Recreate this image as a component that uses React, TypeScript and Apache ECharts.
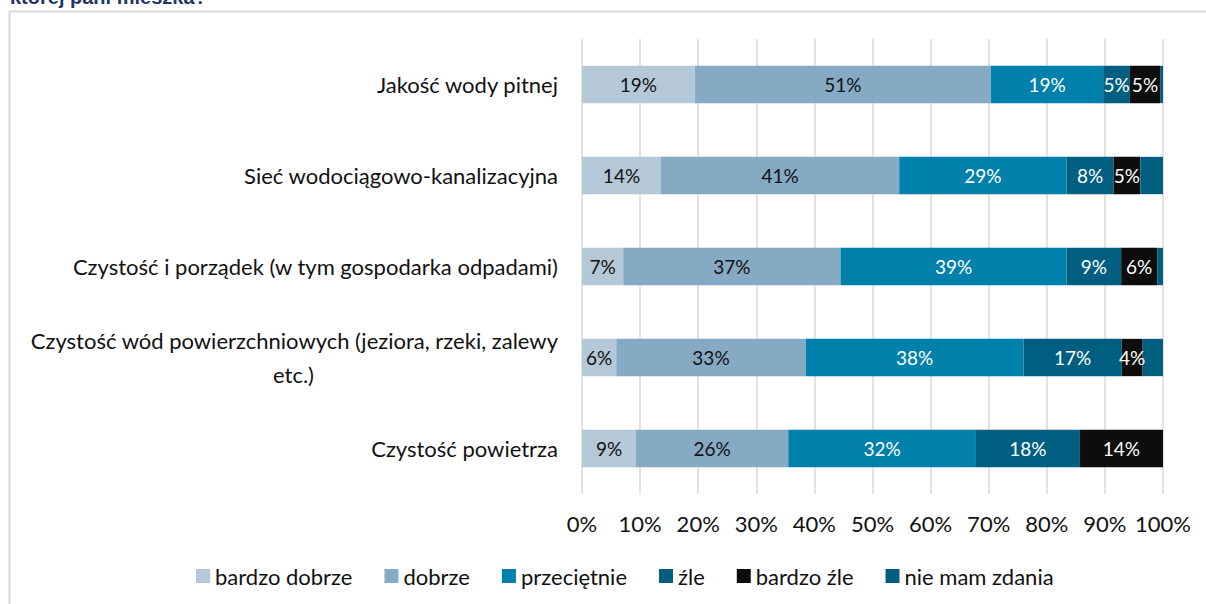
import React, { useEffect, useRef } from "react";
import * as echarts from "echarts";

const categories = [
  "Jakość wody pitnej",
  "Sieć wodociągowo-kanalizacyjna",
  "Czystość i porządek (w tym gospodarka odpadami)",
  "Czystość wód powierzchniowych (jeziora, rzeki, zalewy etc.)",
  "Czystość powietrza",
];

const seriesNames = ["bardzo dobrze", "dobrze", "przeciętnie", "źle", "bardzo źle", "nie mam zdania"];

const bardzoDobrze = [19.4, 13.6, 7.1, 5.9, 9.3];
const dobrze = [51.0, 41.0, 37.4, 32.6, 26.2];
const przecietnie = [19.3, 28.8, 38.9, 37.5, 32.3];
const zle = [4.6, 8.1, 9.4, 16.9, 17.9];
const bardzoZle = [5.2, 4.6, 6.2, 3.6, 14.3];
const nieMamZdania = [0.5, 3.9, 1.0, 3.5, 0];

const xTicks = [0, 10, 20, 30, 40, 50, 60, 70, 80, 90, 100];

const colors = ["#B4C8D8", "#86A9C4", "#0080AB", "#005F80", "#0D0D0D", "#005F80"];
const labelColors = ["#111", "#111", "#fff", "#fff", "#fff", "#fff"];

const FONT = "Lato";

export default function App() {
  const ref = useRef<HTMLDivElement>(null);
  useEffect(() => {
    const chart = echarts.init(ref.current!, undefined, { renderer: "svg" });
    const values = [bardzoDobrze, dobrze, przecietnie, zle, bardzoZle, nieMamZdania];
    const option = {
      animation: false,
      color: colors,
      grid: { left: 582, right: 43, top: 39, bottom: 110, containLabel: false },
      xAxis: {
        type: "value",
        min: xTicks[0],
        max: xTicks[xTicks.length - 1],
        interval: 10,
        axisLine: { show: false },
        axisTick: { show: false },
        splitLine: { show: true, lineStyle: { color: "#D9D9D9", width: 1.5 } },
        axisLabel: {
          formatter: "{value}%",
          fontFamily: FONT,
          fontSize: 22,
          color: "#111",
          margin: 18,
        },
      },
      yAxis: {
        type: "category",
        inverse: true,
        data: categories,
        axisLine: { show: false },
        axisTick: { show: false },
        axisLabel: {
          margin: 24,
          fontFamily: FONT,
          fontSize: 22,
          color: "#111",
          formatter: (v: string) => {
            if (v.indexOf("zalewy etc.") >= 0) {
              const i = v.lastIndexOf(" ");
              return "{a|" + v.slice(0, i) + "}\n{b|" + v.slice(i + 1) + "}";
            }
            return v;
          },
          rich: {
            a: { fontFamily: FONT, fontSize: 22, color: "#111", lineHeight: 34 },
            b: { fontFamily: FONT, fontSize: 22, color: "#111", lineHeight: 34, padding: [0, 244, 0, 0] },
          },
        },
      },
      legend: {
        bottom: 12,
        left: 191,
        icon: "rect",
        itemWidth: 14,
        itemHeight: 14,
        itemGap: 32,
        data: seriesNames,
        textStyle: { fontFamily: FONT, fontSize: 22, color: "#111" },
      },
      series: seriesNames.map((name, si) => ({
        name,
        type: "bar",
        stack: "total",
        barWidth: "41%",
        data: values[si],
        itemStyle: { color: colors[si] },
        label: {
          show: si < 5,
          position: "inside",
          fontFamily: FONT,
          fontSize: 19,
          color: labelColors[si],
          formatter: (p: any) => Math.round(p.value) + "%",
        },
      })),
      graphic: [
        {
          type: "rect",
          shape: { x: 9.5, y: 11.5, width: 1400, height: 800 },
          style: { fill: "none", stroke: "#D9D9D9", lineWidth: 2 },
          silent: true,
        },
        {
          type: "text",
          x: 10,
          y: 7,
          style: {
            text: "której pani mieszka?",
            font: 'bold 20px "Liberation Sans"',
            fill: "#1F3864",
            textVerticalAlign: "bottom",
          },
        },
      ],
    };
    chart.setOption(option as any);
    return () => chart.dispose();
  }, []);
  return (
    <div
      ref={ref}
      style={{ position: "absolute", left: 0, top: 0, width: 1206, height: 604, background: "#fff" }}
    />
  );
}
